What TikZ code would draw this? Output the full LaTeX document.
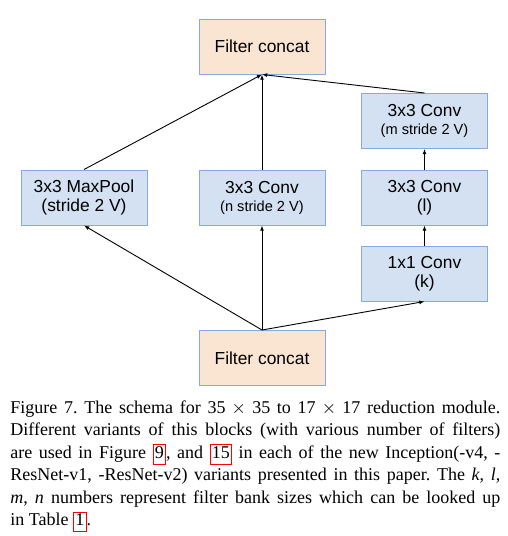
\documentclass[tikz,border=0pt]{standalone}
\usepackage{fontspec}
\setmainfont{Liberation Serif}
\newfontfamily\boxfont{Liberation Sans}
\usetikzlibrary{arrows.meta}
\definecolor{bluefill}{HTML}{D3E1F3}
\definecolor{blueline}{HTML}{86A8E7}
\definecolor{orangefill}{HTML}{FAE5D2}
\newcommand\lnk[1]{\begingroup\setlength{\fboxsep}{0.6pt}\setlength{\fboxrule}{0.5pt}\textcolor{red}{\fbox{\textcolor{black}{\rule[-2.2pt]{0pt}{8.2pt}#1}}}\endgroup}
\newcommand\bigtxt{\fontsize{8.7}{9.6}\selectfont}
\newcommand\smalltxt{\fontsize{7.3}{9}\selectfont}
\frenchspacing
\begin{document}
\begin{tikzpicture}[x=0.5pt,y=-0.5pt,
  layer/.style={draw=blueline, line width=0.5pt, fill=bluefill, minimum width=63pt, minimum height=27.5pt, inner sep=0pt, align=center, font=\boxfont\bigtxt},
  concat/.style={layer, fill=orangefill},
  arr/.style={-{Latex[length=2.6pt,width=2pt]}, line width=0.45pt, black}]
\useasboundingbox (0,0) rectangle (508,536);
\node[concat] (top) at (262,46.5) {Filter concat};
\node[layer] (mp) at (84,197.5) {3x3 MaxPool\\(stride 2 V)};
\node[layer] (cn) at (262,197.5) {3x3 Conv\\[-0.6pt]{\smalltxt (n stride 2 V)}};
\node[layer] (r1) at (424.5,121) {3x3 Conv\\[-0.6pt]{\smalltxt (m stride 2 V)}};
\node[layer] (r2) at (424.5,197.5) {3x3 Conv\\(l)};
\node[layer] (r3) at (424.5,273.5) {1x1 Conv\\(k)};
\node[concat] (bot) at (262,358) {Filter concat};
\draw[arr] (bot.north) -- (mp.south);
\draw[arr] (bot.north) -- (cn.south);
\draw[arr] (bot.north) -- (r3.south);
\draw[arr] (r3.north) -- (r2.south);
\draw[arr] (r2.north) -- (r1.south);
\draw[arr] (mp.north) -- (top.south);
\draw[arr] (cn.north) -- (top.south);
\draw[arr] (r1.north) -- (top.south);
\node[anchor=base west, inner sep=0pt, text width=245pt, align=justify, font=\fontsize{9}{11.25}\selectfont] (cap) at (10,413.3)
{Figure 7. The schema for 35${}\times{}$35 to 17${}\times{}$17 reduction module.\linebreak
Different variants of this blocks (with various number of filters)\linebreak
are used in Figure \lnk{9}, and \lnk{15} in each of the new Inception(-v4, -\linebreak
ResNet-v1, -ResNet-v2) variants presented in this paper. The \textit{k}, \textit{l},\linebreak
\textit{m}, \textit{n} numbers represent filter bank sizes which can be looked up\linebreak
in Table \lnk{1}.};
\end{tikzpicture}
\end{document}
